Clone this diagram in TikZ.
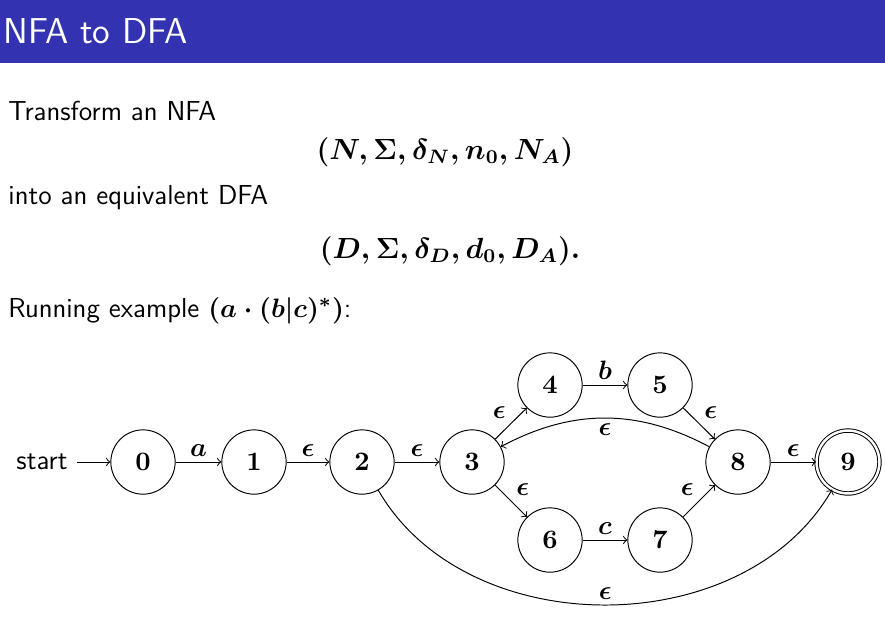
\documentclass[tikz,border=0pt,11pt]{standalone}
\usepackage{amsmath,amssymb}
\renewcommand{\familydefault}{\sfdefault}
\definecolor{titleblue}{RGB}{51,51,178}
\tikzset{
  st/.style={draw,circle,minimum size=9.3mm,inner sep=0pt,font=\boldmath},
  acc/.style={st,double,double distance=0.35mm,minimum size=9.1mm},
  lbl/.style={auto,font=\boldmath,inner sep=2pt},
  txt/.style={anchor=base west,inner sep=0pt},
  tup/.style={anchor=base,inner sep=0pt,font=\large\boldmath},
}
\begin{document}
\begin{tikzpicture}[x=0.14463mm,y=0.14463mm]
					\fontsize{11.3}{13.6}\selectfont
					\useasboundingbox (0,0) rectangle (885,-622);
					% title bar
					\fill [titleblue] (0,0) rectangle (885,-63);
					\node [txt,text=white,font=\fontsize{14.8}{17}\selectfont] (title) at (3,-43) {NFA to DFA};
					% text
					\node [txt] (line1) at (8,-120) {Transform an NFA};
					\node [tup] (tupN) at (445,-159) {$(N,\Sigma,\delta_N,n_0,N_A)$};
					\node [txt] (line2) at (8,-204) {into an equivalent DFA};
					\node [tup] (tupD) at (450,-258) {$(D,\Sigma,\delta_D,d_0,D_A).$};
					\node [txt] (line3) at (8,-317) {Running example $\boldsymbol{(a\cdot(b|c)^*)}$:};
					% states
					\node (start) at (42,-462) {start};
					\node [st] (n0) at (143,-462) {$0$};
					\node [st] (n1) at (254,-462) {$1$};
					\node [st] (n2) at (362,-462) {$2$};
					\node [st] (n3) at (472,-462) {$3$};
					\node [st] (n4) at (550,-385) {$4$};
					\node [st] (n5) at (660,-385) {$5$};
					\node [st] (n6) at (550,-540) {$6$};
					\node [st] (n7) at (660,-540) {$7$};
					\node [st] (n8) at (738,-462) {$8$};
					\node [acc] (n9) at (848,-462) {$9$};
					% transitions
					\draw [->] (start) -- (n0);
					\draw [->] (n0) -- node [lbl] {$a$} (n1);
					\draw [->] (n1) -- node [lbl] {$\epsilon$} (n2);
					\draw [->] (n2) -- node [lbl] {$\epsilon$} (n3);
					\draw [->] (n3) -- node [lbl] {$\epsilon$} (n4);
					\draw [->] (n4) -- node [lbl] {$b$} (n5);
					\draw [->] (n5) -- node [lbl] {$\epsilon$} (n8);
					\draw [->] (n3) -- node [lbl] {$\epsilon$} (n6);
					\draw [->] (n6) -- node [lbl] {$c$} (n7);
					\draw [->] (n7) -- node [lbl] {$\epsilon$} (n8);
					\draw [->] (n8) -- node [lbl] {$\epsilon$} (n9);
					\draw [->] (n8) to [bend right=28] node [lbl] {$\epsilon$} (n3);
					\draw [->] (n2) to [out=-60,in=-120] node [lbl] {$\epsilon$} (n9);
				\end{tikzpicture}
\end{document}
